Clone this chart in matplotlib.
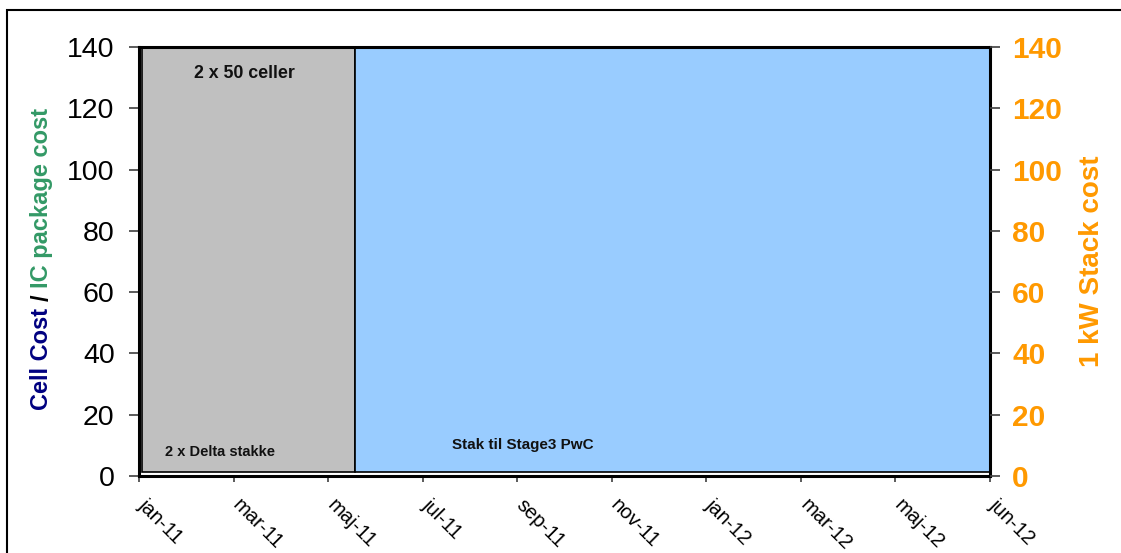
import matplotlib
matplotlib.use("Agg")
import matplotlib.pyplot as plt
from matplotlib.patches import Rectangle
from matplotlib.transforms import ScaledTranslation

plt.rcParams['font.family'] = ['Liberation Sans', 'DejaVu Sans']

# Month tick labels (evenly spaced positions 0..9)
month_labels = ["jan-11", "mar-11", "maj-11", "jul-11", "sep-11",
                "nov-11", "jan-12", "mar-12", "maj-12", "jun-12"]

# Project phases, in tick-index units along the time axis
phase_names = ["2 x Delta stakke", "Stak til Stage3 PwC"]
phase_start = [0.03, 2.28]
phase_end = [2.28, 9.0]
phase_bottom = [1.3, 1.3]
phase_top = [140, 140]
phase_colors = ["#C0C0C0", "#99CCFF"]
phase_label_pos = [(0.86, 7.8), (4.06, 10.1)]
phase_label_size = [10.5, 11]

# Additional note inside the first phase
note_text = "2 x 50 celler"
note_pos = (1.11, 131.2)

y_ticks = [0, 20, 40, 60, 80, 100, 120, 140]

NAVY = "#000080"
GREEN = "#339966"
ORANGE = "#FF9900"

fig = plt.figure(figsize=(11.21, 5.53), dpi=100)
ax = fig.add_axes([139 / 1121, 1 - 476 / 553, (990 - 139) / 1121, (476 - 47) / 553])

for x0, x1, y0, y1, c in zip(phase_start, phase_end, phase_bottom, phase_top, phase_colors):
    ax.add_patch(Rectangle((x0, y0), x1 - x0, y1 - y0, facecolor=c,
                           edgecolor="black", linewidth=1.2, zorder=2))

for name, (px, py), fs in zip(phase_names, phase_label_pos, phase_label_size):
    ax.text(px, py, name, ha="center", va="center", fontsize=fs,
            fontweight="bold", color="#111111", zorder=3)
ax.text(note_pos[0], note_pos[1], note_text, ha="center", va="center",
        fontsize=12.8, fontweight="bold", color="#111111", zorder=3)

ax.set_xlim(0, len(month_labels) - 1)
ax.set_ylim(0, 140)
ax.set_yticks(y_ticks)
ax.set_yticklabels([str(v) for v in y_ticks], fontsize=20.5)
ax.set_xticks(range(len(month_labels)))
ax.set_xticklabels([])
ax.tick_params(axis="y", direction="out", length=7, width=1.2, color="#404040", pad=10.5)
ax.tick_params(axis="x", direction="out", length=4, width=1.2, color="#404040")
for s in ax.spines.values():
    s.set_linewidth(2.2)
    s.set_color("black")
    s.set_zorder(4)

# Slanted month labels hanging below each tick
label_tr = ax.get_xaxis_transform() + ScaledTranslation(9 / 100, -19.5 / 100,
                                                        fig.dpi_scale_trans)
for i, lab in enumerate(month_labels):
    ax.text(i, 0, lab, transform=label_tr, fontsize=14.5, rotation=-45,
            ha="left", va="top", rotation_mode="anchor", clip_on=False)

ax2 = ax.twinx()
ax2.set_ylim(0, 140)
ax2.set_yticks(y_ticks)
ax2.set_yticklabels([str(v) for v in y_ticks], fontsize=21.5,
                    fontweight="bold", color=ORANGE)
ax2.tick_params(axis="y", direction="out", length=7, width=1.2, color="#404040", pad=9)
for s in ax2.spines.values():
    s.set_visible(False)
ax2.set_ylabel("1 kW Stack cost", fontsize=20, fontweight="bold",
               color=ORANGE, labelpad=12)

# Multi-coloured left axis title, stacked bottom to top
fig.canvas.draw()
renderer = fig.canvas.get_renderer()
pieces = [("Cell Cost", NAVY), ("/", "black"), ("IC package cost", GREEN)]
probe = fig.text(0, 0, "a a", fontsize=17, fontweight="bold")
w_sp = probe.get_window_extent(renderer).width
probe.set_text("aa")
w_sp -= probe.get_window_extent(renderer).width
probe.remove()

texts = []
lengths = []
for s, c in pieces:
    t = fig.text(0, 0, s, fontsize=17, fontweight="bold", color=c,
                 rotation=90, ha="center", va="bottom")
    texts.append(t)
    lengths.append(t.get_window_extent(renderer).height)
total = sum(lengths) + w_sp * (len(pieces) - 1)
H = fig.bbox.height
W = fig.bbox.width
center_y = 553 - 259
x_px = 42
y = center_y - total / 2
for t, L in zip(texts, lengths):
    t.set_position((x_px / W, y / H))
    y += L + w_sp

# Outer chart frame
fig.add_artist(Rectangle((7 / 1121, -0.2), 1.2, 1.2 - 10 / 553,
                         transform=fig.transFigure, fill=False,
                         edgecolor="black", linewidth=1.5, clip_on=False))

fig.savefig("out.png", dpi=100)
